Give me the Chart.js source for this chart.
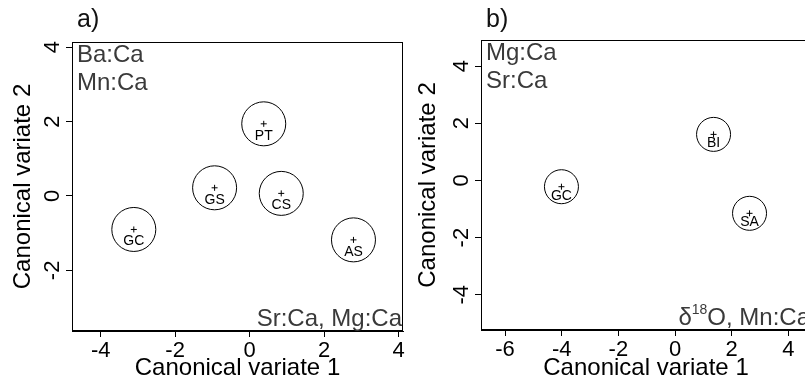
<!DOCTYPE html>
<html>
<head>
<meta charset="utf-8">
<script src="https://cdn.jsdelivr.net/npm/chart.js@4.4.1/dist/chart.umd.min.js"></script>
<style>
  html, body { margin: 0; padding: 0; background: #fff; overflow: hidden; }
  .panel { position: absolute; top: 0; }
  #pa { left: 0; }
  #pb { left: 405px; }
</style>
</head>
<body>
<div class="panel" id="pa"><canvas id="chartA" width="405" height="386"></canvas></div>
<div class="panel" id="pb"><canvas id="chartB" width="408" height="386"></canvas></div>
<script>
// ---------------------------------------------------------------------------
// DATA (group means on the canonical variates)
// ---------------------------------------------------------------------------
const groupsA = ["PT", "GS", "CS", "GC", "AS"];
const cv1A = [0.38, -0.94, 0.85, -3.11, 2.79];
const cv2A = [1.94, 0.22, 0.07, -0.90, -1.18];

const groupsB = ["GC", "BI", "SA"];
const cv1B = [-4.01, 1.36, 2.63];
const cv2B = [-0.22, 1.61, -1.15];

const xTicksA = [-4, -2, 0, 2, 4];
const yTicksA = [-2, 0, 2, 4];
const xTicksB = [-6, -4, -2, 0, 2, 4];
const yTicksB = [-4, -2, 0, 2, 4];

Chart.defaults.font.family = "'Liberation Sans', Arial, sans-serif";

// ---------------------------------------------------------------------------
// PLUGINS : box, corner texts, panel letter, group labels
// ---------------------------------------------------------------------------
const panelDecor = {
    id: "panelDecor",
    afterDraw(chart, args, opts) {
        const ctx = chart.ctx;
        const a = chart.chartArea;
        ctx.save();

        // full box like R's box()
        ctx.strokeStyle = "#000";
        ctx.lineWidth = 1;
        ctx.strokeRect(Math.round(a.left) + 0.5, Math.round(a.top) + 0.5,
            Math.round(a.right - a.left) - 1, Math.round(a.bottom - a.top) - 1);

        // panel letter
        ctx.fillStyle = "#111";
        ctx.font = "25px 'Liberation Sans', Arial";
        ctx.textAlign = "left";
        ctx.textBaseline = "alphabetic";
        ctx.fillText(opts.letter, a.left + 5, 27);

        // variables top-left
        ctx.fillStyle = "#3a3a3a";
        ctx.font = "24px 'Liberation Sans', Arial";
        opts.topLeft.forEach((t, i) => ctx.fillText(t, a.left + 5, a.top + 20 + i * 28));

        // variables bottom-right (pieces so a superscript can be used)
        let x = a.right - 1;
        const y = a.bottom - 5;
        ctx.textAlign = "right";
        for (let i = opts.bottomRight.length - 1; i >= 0; i--) {
            const p = opts.bottomRight[i];
            ctx.font = (p.sup ? "14px" : "24px") + " 'Liberation Sans', Arial";
            ctx.fillText(p.text, x, p.sup ? y - 11 : y);
            x -= ctx.measureText(p.text).width;
        }
        ctx.restore();
    }
};

const groupLabels = {
    id: "groupLabels",
    afterDatasetsDraw(chart, args, opts) {
        const ctx = chart.ctx;
        const meta = chart.getDatasetMeta(1);
        ctx.save();
        ctx.fillStyle = "#000";
        ctx.font = "14px 'Liberation Sans', Arial";
        ctx.textAlign = "center";
        ctx.textBaseline = "middle";
        meta.data.forEach((el, i) => {
            ctx.fillText(opts.names[i], el.x, el.y + opts.offset);
        });
        ctx.restore();
    }
};

// ---------------------------------------------------------------------------
// CHART FACTORY
// ---------------------------------------------------------------------------
function makePanel(id, p) {
    const pts = p.cv1.map((v, i) => ({ x: v, y: p.cv2[i] }));

    const axisCommon = (ticksList) => ({
        type: "linear",
        afterBuildTicks: s => { s.ticks = ticksList.map(v => ({ value: v })); },
        grid: { drawOnChartArea: false, drawTicks: true, tickLength: 6, color: "#000" },
        border: { display: true, color: "#000" },
        ticks: {
            color: "#000",
            font: { size: 22 },
            autoSkip: false,
            callback: v => String(v)
        },
        title: { display: true, color: "#000", font: { size: 24 } }
    });

    const xs = axisCommon(p.xTicks);
    xs.min = p.xMin; xs.max = p.xMax;
    // fixed height, and no extra room for overhanging end labels
    xs.afterFit = s => { s.height = p.xh; s.paddingLeft = 0; s.paddingRight = 0; };
    xs.ticks.maxRotation = 0;
    xs.ticks.padding = 1;
    xs.title.text = "Canonical variate 1";
    xs.title.padding = { top: 0, bottom: 3 };

    const ys = axisCommon(p.yTicks);
    ys.min = p.yMin; ys.max = p.yMax;
    ys.afterFit = s => { s.width = p.yw; s.paddingTop = 0; s.paddingBottom = 0; };
    ys.ticks.minRotation = 90;
    ys.ticks.maxRotation = 90;
    ys.ticks.crossAlign = "center";
    ys.ticks.padding = 3;
    ys.title.text = "Canonical variate 2";
    ys.title.padding = { top: 9, bottom: 0 };

    return new Chart(document.getElementById(id), {
        type: "scatter",
        data: {
            datasets: [
                {
                    data: pts,
                    pointStyle: "circle",
                    pointRadius: p.r,
                    backgroundColor: "rgba(0,0,0,0)",
                    borderColor: "#000",
                    borderWidth: 1
                },
                {
                    data: pts,
                    pointStyle: "cross",
                    pointRadius: 3,
                    borderColor: "#000",
                    borderWidth: 1
                }
            ]
        },
        options: {
            responsive: false,
            animation: false,
            layout: { autoPadding: false, padding: { top: p.top, right: p.right, left: 0, bottom: 0 } },
            plugins: {
                legend: { display: false },
                tooltip: { enabled: false },
                panelDecor: { letter: p.letter, topLeft: p.topLeft, bottomRight: p.bottomRight },
                groupLabels: { names: p.names, offset: p.labelOffset }
            },
            scales: { x: xs, y: ys }
        },
        plugins: [panelDecor, groupLabels]
    });
}

makePanel("chartA", {
    letter: "a)",
    names: groupsA, cv1: cv1A, cv2: cv2A,
    xTicks: xTicksA, yTicks: yTicksA,
    xMin: -4.77, xMax: 4.12, yMin: -3.63, yMax: 4.14,
    top: 42, right: 2, xh: 55, yw: 72,
    r: 22, labelOffset: 12,
    topLeft: ["Ba:Ca", "Mn:Ca"],
    bottomRight: [{ text: "Sr:Ca, Mg:Ca" }]
});

makePanel("chartB", {
    letter: "b)",
    names: groupsB, cv1: cv1B, cv2: cv2B,
    xTicks: xTicksB, yTicks: yTicksB,
    xMin: -6.85, xMax: 4.8, yMin: -5.23, yMax: 4.91,
    top: 40, right: 2, xh: 56, yw: 76,
    r: 17, labelOffset: 9,
    topLeft: ["Mg:Ca", "Sr:Ca"],
    bottomRight: [{ text: "δ" }, { text: "18", sup: true }, { text: "O, Mn:Ca" }]
});
</script>
</body>
</html>
